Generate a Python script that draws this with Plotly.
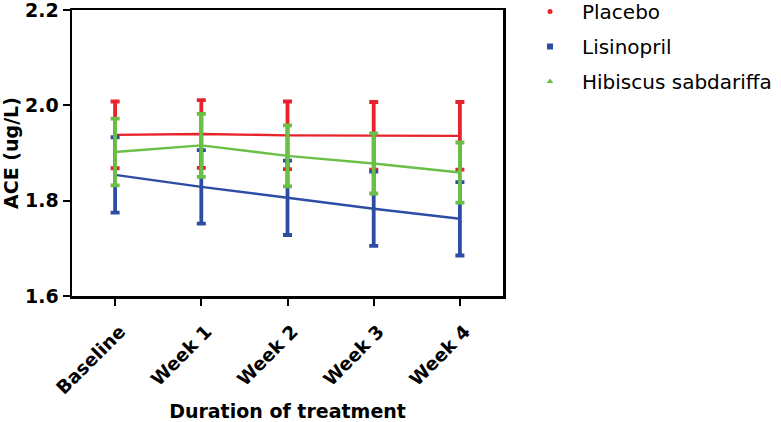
import plotly.graph_objects as go

categories = ["Baseline", "Week 1", "Week 2", "Week 3", "Week 4"]

placebo_mean = [1.938, 1.940, 1.937, 1.936, 1.936]
placebo_err = [0.070, 0.071, 0.071, 0.071, 0.071]

lisinopril_mean = [1.854, 1.829, 1.806, 1.783, 1.762]
lisinopril_err = [0.079, 0.077, 0.078, 0.078, 0.077]

hibiscus_mean = [1.902, 1.916, 1.894, 1.878, 1.859]
hibiscus_err = [0.070, 0.066, 0.064, 0.063, 0.063]

series = [
    ("Placebo", placebo_mean, placebo_err, "#e8232b", "circle", 5),
    ("Lisinopril", lisinopril_mean, lisinopril_err, "#2d4ca4", "square", 6),
    ("Hibiscus sabdariffa", hibiscus_mean, hibiscus_err, "#6abf47", "triangle-up", 6),
]

fig = go.Figure()
for name, mean, err, color, sym, msize in series:
    fig.add_trace(go.Scatter(
        x=categories, y=mean, mode="lines", name=name,
        line=dict(color=color, width=2.4),
        error_y=dict(type="data", array=err, visible=True,
                     color=color, thickness=3.8, width=4.5),
        showlegend=False,
    ))
for i, (name, mean, err, color, sym, msize) in enumerate(series):
    fig.add_trace(go.Scatter(
        x=[None], y=[None], mode="markers", name=name,
        marker=dict(color=color, symbol=sym, size=msize),
        legendgroup="g%d" % i, showlegend=True,
    ))

W, H = 781, 422
font_family = "DejaVu Sans, Arial, sans-serif"
fig.update_layout(
    width=W, height=H,
    margin=dict(l=72, r=278, t=10, b=126, autoexpand=False),
    plot_bgcolor="white", paper_bgcolor="white",
    font=dict(family=font_family, color="black"),
    showlegend=True,
    legend=dict(x=518 / W, y=1 + 18 / 286, xref="container", yref="paper",
                xanchor="left", yanchor="top",
                font=dict(size=20, family=font_family),
                tracegroupgap=6, itemwidth=54,
                bgcolor="rgba(0,0,0,0)"),
    xaxis=dict(
        type="category", range=[-0.5, 4.5], automargin=False,
        showline=True, linecolor="black", linewidth=2.5, mirror=True,
        ticks="outside", ticklen=7, tickwidth=2, tickcolor="black",
        tickangle=-45, showgrid=False, zeroline=False,
        ticklabeloverflow="allow", ticklabelstandoff=8, ticklabelshift=5,
        tickfont=dict(size=18.5, family="DejaVu Sans", weight="bold"),
        title=dict(text="<b>Duration of treatment</b>", standoff=12,
                   font=dict(size=19, family="DejaVu Sans")),
    ),
    yaxis=dict(
        range=[1.6, 2.2], dtick=0.2, tick0=1.6, tickformat=".1f", automargin=False,
        showline=True, linecolor="black", linewidth=2.5, mirror=True,
        ticks="outside", ticklen=7, tickwidth=2, tickcolor="black",
        showgrid=False, zeroline=False, ticklabeloverflow="allow",
        tickfont=dict(size=19, family="DejaVu Sans", weight="bold"),
        title=dict(text="<b>ACE (ug/L)</b>", standoff=4,
                   font=dict(size=19, family="DejaVu Sans")),
    ),
)

# Remove the browser's default 8px page margin so the figure sits at the window origin,
# and hide the interactive mode bar.
fig.write_html("out.html",
               config={"displayModeBar": False, "staticPlot": True},
               post_script="document.body.style.margin='0';")
